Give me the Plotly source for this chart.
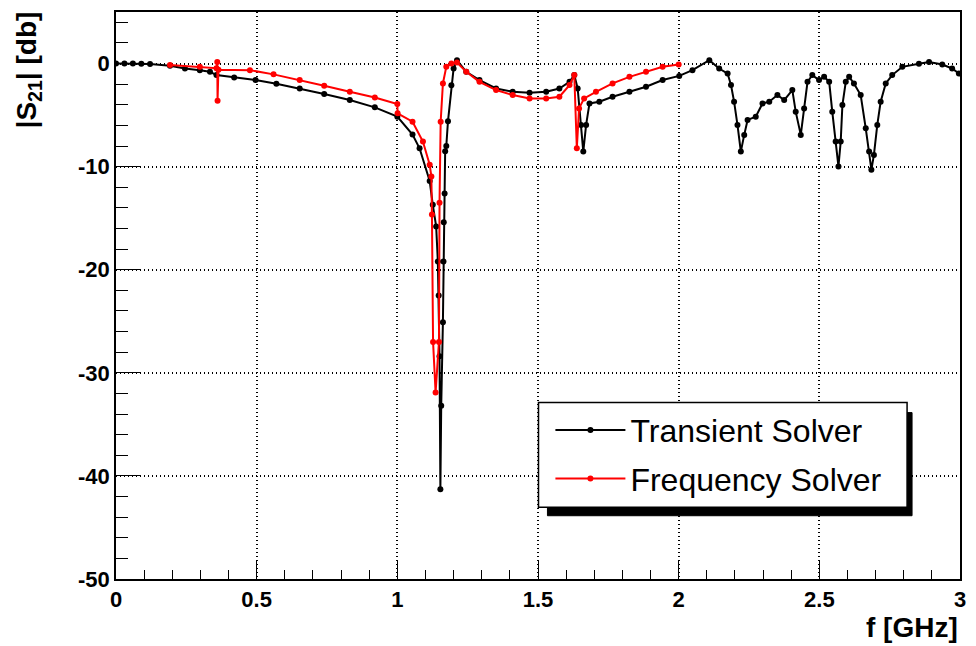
import plotly.graph_objects as go

# Transient solver (black)
trans_f = [0.0, 0.03, 0.06, 0.09, 0.121, 0.192, 0.245, 0.298, 0.334, 0.357, 0.42, 0.496, 0.57, 0.653,
           0.74, 0.831, 0.92, 1.0, 1.054, 1.079, 1.115, 1.126, 1.138, 1.144, 1.147, 1.150,
           1.153, 1.156, 1.162, 1.164, 1.165, 1.168, 1.170, 1.174, 1.180, 1.192, 1.200,
           1.212, 1.245, 1.292, 1.351, 1.410, 1.470, 1.529, 1.576, 1.612, 1.629, 1.641,
           1.653, 1.661, 1.671, 1.683, 1.718, 1.765, 1.825, 1.884, 1.943, 2.002, 2.049,
           2.109, 2.144, 2.174, 2.186, 2.197, 2.209, 2.221, 2.233, 2.245, 2.274, 2.298,
           2.322, 2.351, 2.375, 2.404, 2.416, 2.434, 2.446, 2.458, 2.475, 2.499, 2.517,
           2.535, 2.546, 2.558, 2.568, 2.576, 2.582, 2.594, 2.606, 2.623, 2.647, 2.665,
           2.677, 2.685, 2.694, 2.706, 2.718, 2.736, 2.759, 2.795, 2.854, 2.890, 2.937,
           2.972, 2.996]
trans_db = [0.0, 0.0, 0.0, -0.02, -0.05, -0.22, -0.48, -0.65, -0.8, -1.12, -1.35, -1.6, -1.95, -2.42,
            -2.95, -3.54, -4.25, -5.15, -6.89, -8.22, -11.4, -13.7, -15.8, -19.2, -22.5, -28.4,
            -41.3, -33.2, -25.1, -19.2, -15.4, -12.6, -8.5, -8.0, -5.6, -2.1, -0.48,
            0.33, -0.8, -1.6, -2.42, -2.74, -2.83, -2.74, -2.42, -1.77, -1.12, -2.42,
            -5.95, -8.54, -5.95, -3.87, -3.7, -3.22, -2.74, -2.25, -1.6, -1.2, -0.64,
            0.33, -0.48, -0.97, -2.09, -3.7, -5.95, -8.54, -6.92, -5.47, -5.15, -3.87,
            -3.7, -3.05, -3.54, -2.57, -4.67, -6.92, -4.35, -1.77, -1.12, -1.6, -1.29,
            -1.77, -4.67, -7.57, -9.99, -7.57, -4.02, -1.77, -1.29, -1.93, -3.05, -6.28,
            -8.54, -10.3, -8.86, -5.95, -3.7, -1.93, -1.12, -0.32, -0.03, 0.16, -0.1,
            -0.48, -0.97]

# Frequency solver (red)
freq_f = [0.192, 0.298, 0.357, 0.360, 0.361, 0.364, 0.476, 0.56, 0.653, 0.74, 0.831, 0.92, 1.0, 1.001,
          1.054, 1.091, 1.115, 1.121, 1.123, 1.127, 1.136, 1.148, 1.150, 1.154, 1.162,
          1.174, 1.192, 1.212, 1.245, 1.292, 1.351, 1.410, 1.470, 1.529, 1.576, 1.612,
          1.629, 1.638, 1.646, 1.664, 1.706, 1.765, 1.825, 1.884, 1.943, 2.0]
freq_db = [-0.15, -0.32, -0.45, 0.16, -3.6, -0.6, -0.64, -1.05, -1.6, -2.15, -2.74, -3.3, -3.92, -4.83,
           -5.64, -7.57, -9.82, -10.95, -14.65, -27.0, -31.9, -27.0, -13.5, -5.64, -1.93,
           -0.32, 0.0, 0.1, -0.8, -1.77, -2.57, -3.05, -3.38, -3.38, -3.22, -2.09,
           -1.12, -8.22, -4.35, -3.38, -2.74, -1.93, -1.29, -0.8, -0.32, -0.1]

x_tickvals = [0, 0.5, 1, 1.5, 2, 2.5, 3]
x_ticktext = ["0", "0.5", "1", "1.5", "2", "2.5", "3"]
y_tickvals = [-50, -40, -30, -20, -10, 0]
y_ticktext = ["-50", "-40", "-30", "-20", "-10", "0"]

FONT = "Liberation Sans"

fig = go.Figure()
fig.add_trace(go.Scatter(x=trans_f, y=trans_db, mode="lines+markers", name="Transient Solver",
                         line=dict(color="black", width=2),
                         marker=dict(color="black", size=6, symbol="circle"),
                         legendgroup="a"))
fig.add_trace(go.Scatter(x=freq_f, y=freq_db, mode="lines+markers", name="Frequency Solver",
                         line=dict(color="red", width=2),
                         marker=dict(color="red", size=6, symbol="circle"),
                         legendgroup="b"))

axis_common = dict(
    showline=True, linecolor="black", linewidth=1.5, mirror=True,
    ticks="inside", tickcolor="black", tickwidth=1,
    showgrid=True, gridcolor="black", griddash="1px,3px", gridwidth=1.5,
    zeroline=False,
    tickfont=dict(family=FONT, size=22, color="black", weight="bold"),
)

fig.update_xaxes(range=[0, 3], tickvals=x_tickvals, ticktext=x_ticktext, ticklen=19,
                 minor=dict(dtick=0.1, tick0=0, ticks="inside", ticklen=9, tickcolor="black", showgrid=False),
                 **axis_common)
fig.update_yaxes(range=[-50, 5], tickvals=y_tickvals, ticktext=y_ticktext, ticklen=25,
                 minor=dict(dtick=2, tick0=0, ticks="inside", ticklen=12, tickcolor="black", showgrid=False),
                 **axis_common)

# legend frame and shadow
fig.add_shape(type="rect", xref="paper", yref="paper", x0=0.5112, x1=0.9432, y0=0.1116, y1=0.2935,
              fillcolor="black", line=dict(color="black", width=1), layer="above")
fig.add_shape(type="rect", xref="paper", yref="paper", x0=0.5006, x1=0.9373, y0=0.1265, y1=0.3111,
              fillcolor="white", line=dict(color="black", width=1.5), layer="above")

fig.add_annotation(text="|S<sub>21</sub>| [db]", xref="paper", yref="paper", x=-0.104, y=1.004,
                   xanchor="center", yanchor="top", textangle=-90, showarrow=False,
                   font=dict(family=FONT, size=28, color="black", weight="bold"))
fig.add_annotation(text="f [GHz]", xref="paper", yref="paper", x=1.0, y=-0.117,
                   xanchor="right", yanchor="bottom", showarrow=False,
                   font=dict(family=FONT, size=28, color="black", weight="bold"))

fig.update_layout(
    width=976, height=646,
    margin=dict(l=116, r=15, t=10, b=67),
    paper_bgcolor="white", plot_bgcolor="white",
    showlegend=True,
    legend=dict(x=0.5147, y=0.311, xanchor="left", yanchor="top",
                bgcolor="rgba(0,0,0,0)", borderwidth=0,
                font=dict(family=FONT, size=32, color="black"),
                itemwidth=70, tracegroupgap=4),
)

fig.write_html("out.html")
